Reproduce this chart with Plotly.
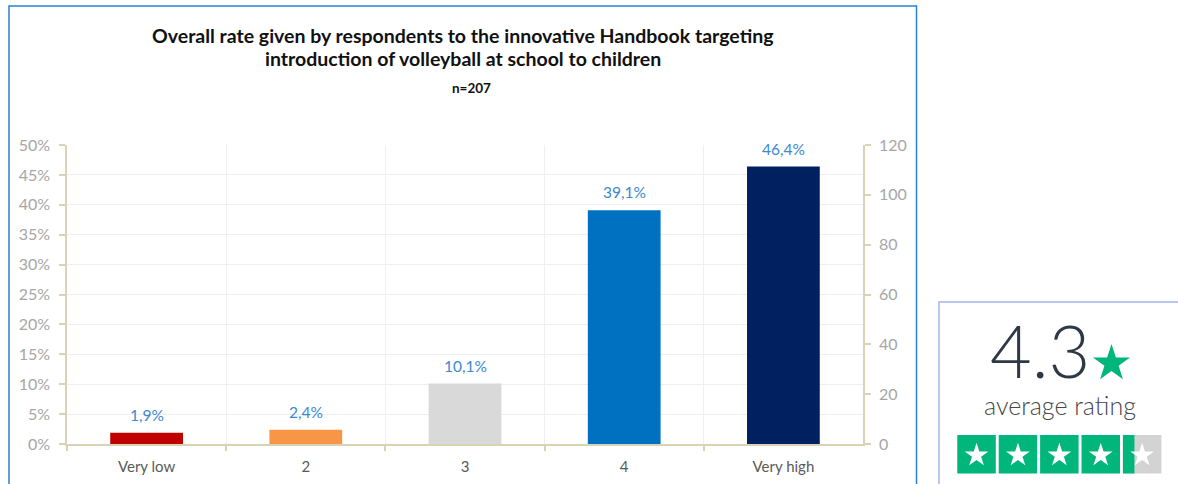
import math
import plotly.graph_objects as go

# ---- data ----
categories = ["Very low", "2", "3", "4", "Very high"]
shares = [1.9, 2.4, 10.1, 39.1, 46.4]          # % of respondents
bar_colors = ["#c00000", "#f79646", "#d9d9d9", "#0070c0", "#002060"]
n_respondents = 207
avg_rating = 4.3

title_lines = [
    "Overall rate given by respondents to the innovative Handbook targeting",
    "introduction of volleyball at school to children",
]
subtitle = f"n={n_respondents}"

# ---- page geometry (pixels) ----
W, H = 1178, 484


def fx(px):
    return px / W


def fy(py):
    return 1 - py / H


AXIS = "#d9d3b5"
GRID = "#efefef"
LABEL_BLUE = "#3a89d1"
GREEN = "#00b67a"

fig = go.Figure()

fig.add_trace(go.Bar(
    x=categories,
    y=shares,
    marker=dict(color=bar_colors, line=dict(width=0)),
    width=0.457,
    hoverinfo="skip",
    showlegend=False,
))

# secondary (count) axis: same scale as percentages, expressed in respondents
fig.add_trace(go.Scatter(
    x=categories,
    y=[s / 100 * n_respondents for s in shares],
    yaxis="y2",
    mode="markers",
    marker=dict(opacity=0),
    hoverinfo="skip",
    showlegend=False,
))

# value labels above the bars (category index positions)
annotations = []
for i, val in enumerate(shares):
    annotations.append(dict(
        x=i, y=val, xref="x", yref="y",
        text=f"{val:.1f}%".replace(".", ","),
        showarrow=False, yanchor="bottom", yshift=7,
        font=dict(family="Lato", size=15.5, color=LABEL_BLUE),
    ))

# title block
annotations += [
    dict(x=fx(462.5), y=fy(35), xref="paper", yref="paper", text=f"<b>{title_lines[0]}</b>",
         showarrow=False, xanchor="center", yanchor="middle",
         font=dict(family="Lato", size=19.5, color="#111111")),
    dict(x=fx(462.5), y=fy(58.5), xref="paper", yref="paper", text=f"<b>{title_lines[1]}</b>",
         showarrow=False, xanchor="center", yanchor="middle",
         font=dict(family="Lato", size=19.5, color="#111111")),
    dict(x=fx(471), y=fy(88), xref="paper", yref="paper", text=f"<b>{subtitle}</b>",
         showarrow=False, xanchor="center", yanchor="middle",
         font=dict(family="Lato", size=13.5, color="#111111")),
]

# rating widget text
annotations += [
    dict(x=fx(1040), y=fy(350), xref="paper", yref="paper", text=f"{avg_rating:.1f}",
         showarrow=False, xanchor="center", yanchor="middle",
         font=dict(family="Lato", size=72, color="#2f3946", weight=300)),
    dict(x=fx(1060), y=fy(405), xref="paper", yref="paper", text="average rating",
         showarrow=False, xanchor="center", yanchor="middle",
         font=dict(family="Lato", size=25, color="#474747", weight=300)),
]


def star_path(cx, cy, r_out, ratio=0.382):
    pts = []
    for k in range(10):
        r = r_out if k % 2 == 0 else r_out * ratio
        a = math.radians(-90 + 36 * k)
        pts.append((fx(cx + r * math.cos(a)), fy(cy + r * math.sin(a))))
    return "M " + " L ".join(f"{x:.5f},{y:.5f}" for x, y in pts) + " Z"


shapes = [
    # chart frame
    dict(type="rect", xref="paper", yref="paper", x0=fx(9), x1=fx(916.5), y0=-0.02, y1=fy(6),
         line=dict(color="#2b80d6", width=1.5), fillcolor="rgba(0,0,0,0)", layer="below"),
    # rating widget frame
    dict(type="rect", xref="paper", yref="paper", x0=fx(939), x1=1.02, y0=-0.02, y1=fy(302),
         line=dict(color="#a3b6e6", width=1.5), fillcolor="rgba(0,0,0,0)", layer="below"),
    # star next to the average
    dict(type="path", xref="paper", yref="paper", path=star_path(1111.5, 363.5, 19.5),
         fillcolor=GREEN, line=dict(width=0)),
]

# row of five rating boxes
box0, pitch, size, top = 957.3, 41.4, 38.5, 435
for i in range(5):
    x0 = box0 + i * pitch
    fill = min(max(avg_rating - i, 0), 1)
    if fill < 1:
        shapes.append(dict(type="rect", xref="paper", yref="paper",
                           x0=fx(x0), x1=fx(x0 + size), y0=fy(top + size), y1=fy(top),
                           fillcolor="#d3d3d3", line=dict(width=0)))
    if fill > 0:
        shapes.append(dict(type="rect", xref="paper", yref="paper",
                           x0=fx(x0), x1=fx(x0 + size * fill), y0=fy(top + size), y1=fy(top),
                           fillcolor=GREEN, line=dict(width=0)))
    shapes.append(dict(type="path", xref="paper", yref="paper",
                       path=star_path(x0 + size / 2, top + size / 2 + 1, 12.5),
                       fillcolor="white", line=dict(width=0)))

fig.update_layout(
    width=W, height=H,
    margin=dict(l=0, r=0, t=0, b=0, autoexpand=False),
    paper_bgcolor="white", plot_bgcolor="white",
    font=dict(family="Lato", size=15, color="#595959"),
    showlegend=False,
    bargap=0.543,
    xaxis=dict(
        domain=[fx(67), fx(863)],
        type="category",
        tickson="boundaries",
        ticks="outside", ticklen=5, tickcolor=AXIS, tickwidth=1.5,
        showline=True, linecolor=AXIS, linewidth=1.5,
        showgrid=True, gridcolor=GRID, gridwidth=1,
        tickfont=dict(family="Lato", size=15, color="#595959"),
        ticklabelstandoff=8,
        automargin=False,
        fixedrange=True,
    ),
    yaxis=dict(
        domain=[fy(444), fy(145)],
        range=[0, 50], dtick=5, ticksuffix="%",
        ticks="outside", ticklen=6, tickcolor=AXIS, tickwidth=1.5,
        showline=True, linecolor=AXIS, linewidth=1.5,
        showgrid=True, gridcolor=GRID, gridwidth=1,
        zeroline=False,
        tickfont=dict(family="Lato", size=16, color="#a6a6a6"),
        ticklabelstandoff=6,
        automargin=False,
        fixedrange=True,
    ),
    yaxis2=dict(
        overlaying="y", side="right", anchor="x",
        range=[0, 120], dtick=20,
        ticks="outside", ticklen=6, tickcolor=AXIS, tickwidth=1.5,
        showline=True, linecolor=AXIS, linewidth=1.5,
        showgrid=False, zeroline=False,
        tickfont=dict(family="Lato", size=16, color="#a6a6a6"),
        ticklabelstandoff=5,
        automargin=False,
        fixedrange=True,
    ),
    annotations=annotations,
    shapes=shapes,
)

fig.write_html("out.html", config=dict(displayModeBar=False))
